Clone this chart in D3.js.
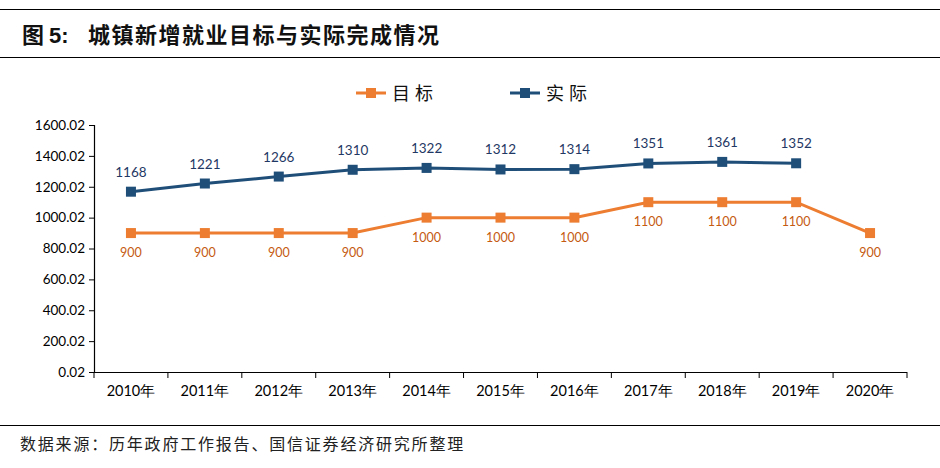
<!DOCTYPE html>
<html><head><meta charset="utf-8">
<script src="https://cdn.jsdelivr.net/npm/d3@7/dist/d3.min.js"></script>
<style>body{margin:0;background:#fff;}svg{display:block;}</style>
</head><body>
<svg id="c" width="940" height="468"></svg>
<script>
const years = ["2010年","2011年","2012年","2013年","2014年","2015年","2016年","2017年","2018年","2019年","2020年"];
const targetVals = [900,900,900,900,1000,1000,1000,1100,1100,1100,900];
const actualVals = [1168,1221,1266,1310,1322,1312,1314,1351,1361,1352,null];
const yTicks = [0.02,200.02,400.02,600.02,800.02,1000.02,1200.02,1400.02,1600.02];
const seriesNames = ["目标","实际"];
const colors = {target:"#ED7D31", actual:"#1F4E79", targetLabel:"#C55A11", actualLabel:"#1F3864"};

const svg = d3.select("#c");
const cjk = "'Noto Sans CJK SC', sans-serif";
const num = "Lato, 'Open Sans', sans-serif";

// frame lines
svg.append("line").attr("x1",0).attr("x2",940).attr("y1",9.5).attr("y2",9.5).attr("stroke","#000").attr("stroke-width",1.2);
svg.append("line").attr("x1",0).attr("x2",940).attr("y1",57.5).attr("y2",57.5).attr("stroke","#000").attr("stroke-width",1.2);
svg.append("line").attr("x1",0).attr("x2",940).attr("y1",425.5).attr("y2",425.5).attr("stroke","#000").attr("stroke-width",1.2);

// title
const t = svg.append("text").attr("x",22).attr("y",43).attr("font-family",cjk).attr("font-size",22).attr("font-weight","bold").attr("fill","#111");
t.append("tspan").text("图 ");
t.append("tspan").attr("font-family","Arial, 'Liberation Sans', sans-serif").text("5:");
t.append("tspan").attr("x",88).attr("letter-spacing",1.5).text("城镇新增就业目标与实际完成情况");

// source
svg.append("text").attr("x",20).attr("y",450).attr("font-family",cjk).attr("font-size",16).attr("letter-spacing",1.8).attr("fill","#222")
  .text("数据来源：历年政府工作报告、国信证券经济研究所整理");

const x = d3.scaleBand().domain(years).range([94,907]);
const y = d3.scaleLinear().domain([0.02,1600.02]).range([372,125]);

// y axis
const ya = svg.append("g").attr("transform","translate(94,0)")
  .call(d3.axisLeft(y).tickValues(yTicks).tickFormat(d=>d.toFixed(2)).tickSize(5).tickPadding(4));
ya.select(".domain").attr("stroke","#000").attr("stroke-width",1.2);
ya.selectAll(".tick line").attr("stroke","#000");
ya.selectAll("text").attr("font-family",num).attr("font-size",13.5).attr("fill","#000");

// x axis
const xa = svg.append("g").attr("transform","translate(0,372)")
  .call(d3.axisBottom(x).tickSize(0).tickPadding(0));
xa.select(".domain").remove();
xa.selectAll(".tick line").remove();
xa.selectAll("text").attr("y",24).attr("dy",0).attr("font-family",num).attr("font-size",14.5).attr("fill","#000");
svg.append("line").attr("x1",94).attr("x2",907).attr("y1",372.5).attr("y2",372.5).attr("stroke","#000").attr("stroke-width",1.2);
const bounds = years.map(d=>x(d)).concat([907]);
svg.selectAll(".xt").data(bounds).enter().append("line")
  .attr("x1",d=>d).attr("x2",d=>d).attr("y1",372).attr("y2",378).attr("stroke","#000").attr("stroke-width",1);

const cx = d => x(d) + x.bandwidth()/2;

function drawSeries(vals, color, labelColor, above){
  const pts = years.map((yr,i)=>({yr, v:vals[i]})).filter(p=>p.v!==null);
  const line = d3.line().x(p=>cx(p.yr)).y(p=>y(p.v));
  svg.append("path").datum(pts).attr("d",line).attr("fill","none").attr("stroke",color).attr("stroke-width",3);
  svg.selectAll(null).data(pts).enter().append("rect")
    .attr("x",p=>cx(p.yr)-5).attr("y",p=>y(p.v)-5).attr("width",10).attr("height",10).attr("fill",color);
  svg.selectAll(null).data(pts).enter().append("text")
    .attr("x",p=>cx(p.yr)).attr("y",p=>y(p.v)+(above?-15:24))
    .attr("text-anchor","middle").attr("font-family",num).attr("font-size",above?13.5:12.5).attr("fill",labelColor)
    .text(p=>p.v);
}
drawSeries(targetVals, colors.target, colors.targetLabel, false);
drawSeries(actualVals, colors.actual, colors.actualLabel, true);

// legend
const lg = [{name:seriesNames[0], c:colors.target, x:356},{name:seriesNames[1], c:colors.actual, x:510}];
lg.forEach(l=>{
  svg.append("line").attr("x1",l.x).attr("x2",l.x+30).attr("y1",93).attr("y2",93).attr("stroke",l.c).attr("stroke-width",3);
  svg.append("rect").attr("x",l.x+10).attr("y",88).attr("width",10).attr("height",10).attr("fill",l.c);
  svg.append("text").attr("x",l.x+36).attr("y",100).attr("font-family",cjk).attr("font-size",18).attr("fill","#111").attr("letter-spacing",5).text(l.name);
});
</script>
</body></html>
